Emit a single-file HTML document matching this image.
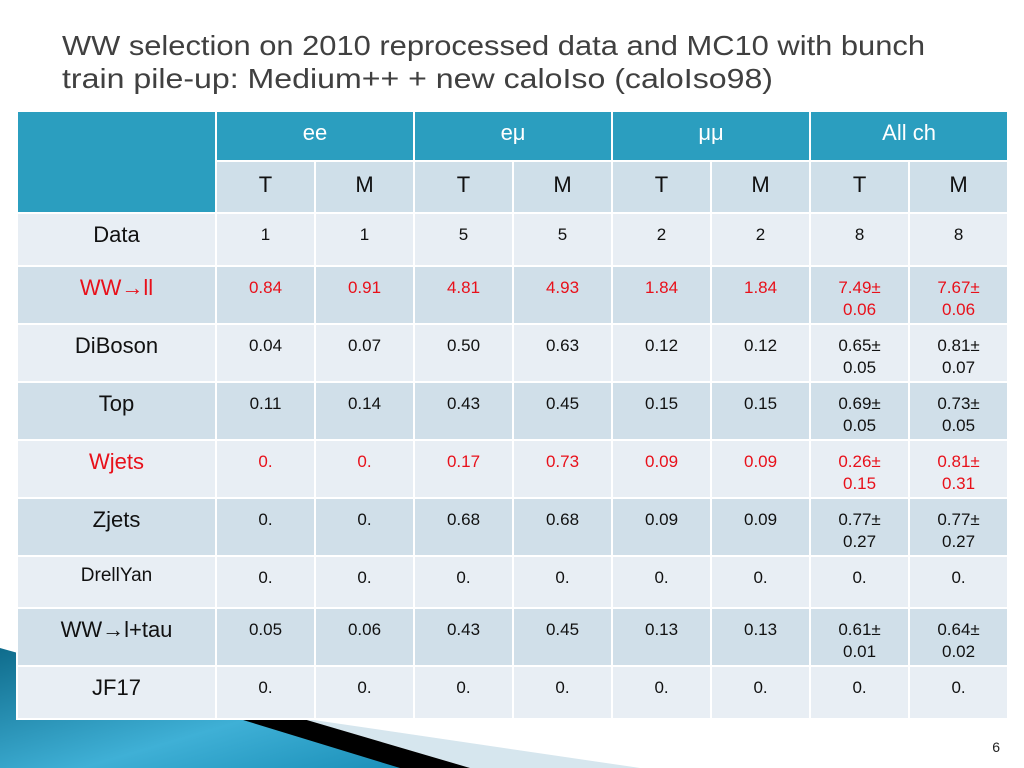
<!DOCTYPE html>
<html><head><meta charset="utf-8"><style>
body{margin:0;width:1024px;height:768px;background:#fff;position:relative;overflow:hidden;font-family:"Liberation Sans",sans-serif}
#deco{position:absolute;left:0;top:0}
table{position:absolute;left:16px;top:110px;border-collapse:collapse;table-layout:fixed;width:991px}
td{border:2px solid #fff;padding:0;text-align:center;vertical-align:top;color:#111;font-size:17px;box-sizing:border-box}
td.h{background:#2b9ebf;color:#fff;font-size:22px;padding-top:8px}
td.s{background:#cfdfe9;font-size:22px;padding-top:10px}
tr.l td{background:#e8eef4}
tr.d td{background:#d0dfe9}
td.lab{font-size:22px;padding-top:8px}
td.n{padding-top:10px;line-height:22px}
.r td{color:#e8101a}
</style></head><body>
<svg id="deco" width="1024" height="768">
<defs><linearGradient id="g" x1="0" y1="0" x2="1" y2="1"><stop offset="0" stop-color="#0f6c8c"/><stop offset="0.6" stop-color="#3fb0d6"/><stop offset="1" stop-color="#1a8fb8"/></linearGradient></defs>
<polygon points="300,718 640,768 470,768" fill="#d6e6ee"/>
<polygon points="0,648 250,718 410,768 0,768" fill="url(#g)"/>
<polygon points="230,716 300,718 470,768 400,768" fill="#000"/>
<text x="62" y="55" font-size="28" fill="#404040" textLength="863" lengthAdjust="spacingAndGlyphs">WW selection on 2010 reprocessed data and MC10 with bunch</text>
<text x="62" y="88" font-size="28" fill="#404040" textLength="711" lengthAdjust="spacingAndGlyphs">train pile-up: Medium++ + new caloIso (caloIso98)</text>
<text x="1000" y="752" font-size="14" fill="#222" text-anchor="end">6</text>
</svg>
<table>
<colgroup><col style="width:199px"><col span="8" style="width:99px"></colgroup>
<tr style="height:50px"><td class="h" rowspan="2"></td><td class="h" colspan="2">ee</td><td class="h" colspan="2">eμ</td><td class="h" colspan="2">μμ</td><td class="h" colspan="2">All ch</td></tr>
<tr style="height:52px"><td class="s">T</td><td class="s">M</td><td class="s">T</td><td class="s">M</td><td class="s">T</td><td class="s">M</td><td class="s">T</td><td class="s">M</td></tr>
<tr class="l" style="height:53px"><td class="lab">Data</td><td class="n">1</td><td class="n">1</td><td class="n">5</td><td class="n">5</td><td class="n">2</td><td class="n">2</td><td class="n">8</td><td class="n">8</td></tr>
<tr class="d r" style="height:58px"><td class="lab">WW→ll</td><td class="n">0.84</td><td class="n">0.91</td><td class="n">4.81</td><td class="n">4.93</td><td class="n">1.84</td><td class="n">1.84</td><td class="n">7.49±<br>0.06</td><td class="n">7.67±<br>0.06</td></tr>
<tr class="l" style="height:58px"><td class="lab">DiBoson</td><td class="n">0.04</td><td class="n">0.07</td><td class="n">0.50</td><td class="n">0.63</td><td class="n">0.12</td><td class="n">0.12</td><td class="n">0.65±<br>0.05</td><td class="n">0.81±<br>0.07</td></tr>
<tr class="d" style="height:58px"><td class="lab">Top</td><td class="n">0.11</td><td class="n">0.14</td><td class="n">0.43</td><td class="n">0.45</td><td class="n">0.15</td><td class="n">0.15</td><td class="n">0.69±<br>0.05</td><td class="n">0.73±<br>0.05</td></tr>
<tr class="l r" style="height:58px"><td class="lab">Wjets</td><td class="n">0.</td><td class="n">0.</td><td class="n">0.17</td><td class="n">0.73</td><td class="n">0.09</td><td class="n">0.09</td><td class="n">0.26±<br>0.15</td><td class="n">0.81±<br>0.31</td></tr>
<tr class="d" style="height:58px"><td class="lab">Zjets</td><td class="n">0.</td><td class="n">0.</td><td class="n">0.68</td><td class="n">0.68</td><td class="n">0.09</td><td class="n">0.09</td><td class="n">0.77±<br>0.27</td><td class="n">0.77±<br>0.27</td></tr>
<tr class="l" style="height:52px"><td class="lab" style="font-size:19px">DrellYan</td><td class="n">0.</td><td class="n">0.</td><td class="n">0.</td><td class="n">0.</td><td class="n">0.</td><td class="n">0.</td><td class="n">0.</td><td class="n">0.</td></tr>
<tr class="d" style="height:58px"><td class="lab">WW→l+tau</td><td class="n">0.05</td><td class="n">0.06</td><td class="n">0.43</td><td class="n">0.45</td><td class="n">0.13</td><td class="n">0.13</td><td class="n">0.61±<br>0.01</td><td class="n">0.64±<br>0.02</td></tr>
<tr class="l" style="height:53px"><td class="lab">JF17</td><td class="n">0.</td><td class="n">0.</td><td class="n">0.</td><td class="n">0.</td><td class="n">0.</td><td class="n">0.</td><td class="n">0.</td><td class="n">0.</td></tr>
</table>
</body></html>
